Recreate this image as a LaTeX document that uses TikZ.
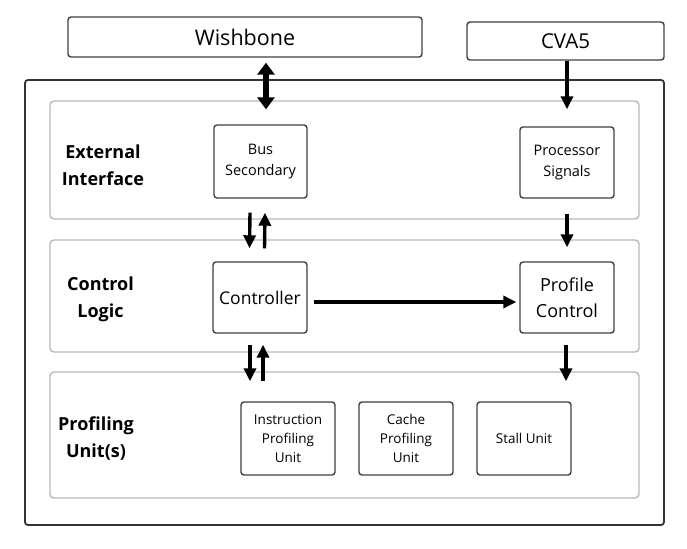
\documentclass[tikz,border=0pt]{standalone}
\usepackage{fontspec}
\setmainfont{Open Sans}
\usetikzlibrary{arrows.meta,calc}
\begin{document}
\begin{tikzpicture}[x=1pt,y=-1pt,
  topbox/.style={draw=black!75,line width=1.4pt,rounded corners=3pt,inner sep=0pt},
  outerbox/.style={draw=black!80,line width=1.8pt,rounded corners=3pt,inner sep=0pt},
  layer/.style={draw=black!28,line width=1.4pt,rounded corners=4pt,inner sep=0pt},
  unitbox/.style={draw=black!75,line width=1.4pt,rounded corners=3pt,inner sep=0pt,
    minimum width=94pt,align=center},
  heading/.style={font=\fontsize{18}{27}\selectfont\bfseries,align=center,inner sep=0pt},
  arr/.style={line width=3.4pt,-{Triangle[length=13pt,width=12pt]}},
  darr/.style={line width=5.5pt,{Triangle[length=12pt,width=17pt]}-{Triangle[length=12pt,width=17pt]}}
]
\useasboundingbox (0,0) rectangle (687,548);
% top boxes
\node[topbox,minimum width=354pt,minimum height=40pt,font=\fontsize{21.5}{24}\selectfont] (wb) at (245,37) {Wishbone};
\node[topbox,minimum width=197pt,minimum height=38pt,font=\fontsize{20.5}{24}\selectfont] (cva) at (565.5,41) {CVA5};
% outer
\node[outerbox,minimum width=639pt,minimum height=445pt] (outer) at (344.5,302.5) {};
% layers
\node[layer,minimum width=589pt,minimum height=118pt] (l1) at (344.5,160) {};
\node[layer,minimum width=589pt,minimum height=112pt] (l2) at (344.5,296) {};
\node[layer,minimum width=589pt,minimum height=126pt] (l3) at (344.5,435) {};
% headings
\node[heading] (h1) at (103,165.5) {External\\Interface};
\node[heading] (h2) at (100.5,299) {Control\\Logic};
\node[heading] (h3) at (96,438.5) {Profiling\\Unit(s)};
% inner boxes
\node[unitbox,minimum width=93pt,minimum height=73pt,font=\fontsize{14.5}{21}\selectfont] (bs) at (260.5,161.5) {Bus\\Secondary};
\node[unitbox,minimum height=71pt,font=\fontsize{14.5}{21}\selectfont] (ps) at (567,162.5) {Processor\\Signals};
\node[unitbox,minimum height=71pt,font=\fontsize{17.5}{24}\selectfont] (ctl) at (260,297.5) {Controller};
\node[unitbox,minimum height=71pt,font=\fontsize{18}{26}\selectfont] (pc) at (567,297.5) {Profile\\Control};
\node[unitbox,minimum height=73pt,font=\fontsize{13.5}{19}\selectfont] (ipu) at (288,438.5) {Instruction\\Profiling\\Unit};
\node[unitbox,minimum height=73pt,font=\fontsize{13.5}{19}\selectfont] (cpu) at (406,438.5) {Cache\\Profiling\\Unit};
\node[unitbox,minimum height=73pt,font=\fontsize{13.5}{19}\selectfont] (su) at (524,438.5) {Stall Unit};
% connectors
\draw[darr] ([xshift=5.5pt,yshift=-5pt]bs.north |- wb.south) -- ([xshift=5.5pt,yshift=15pt]bs.north);
\draw[arr] (ps.north |- cva.south) -- ([yshift=17pt]ps.north);
\draw[arr] ([xshift=-10.5pt,yshift=-14pt]bs.south) -- ([xshift=-10.5pt,yshift=13pt]ctl.north);
\draw[arr] ([xshift=4.5pt,yshift=13pt]ctl.north) -- ([xshift=4.5pt,yshift=-14pt]bs.south);
\draw[arr] ([yshift=-15pt]ps.south) -- ([yshift=14pt]pc.north);
\draw[arr] ([xshift=6pt,yshift=-4.5pt]ctl.east) -- ([xshift=-3pt,yshift=-4.5pt]pc.west);
\draw[arr] ([xshift=-10pt,yshift=-11pt]ctl.south) -- ([xshift=-38pt,yshift=20pt]ipu.north);
\draw[arr] ([xshift=-25pt,yshift=20pt]ipu.north) -- ([xshift=3pt,yshift=-11pt]ctl.south);
\draw[arr] ([xshift=-1pt,yshift=-11pt]pc.south) -- ([xshift=42pt,yshift=20pt]su.north);
\end{tikzpicture}
\end{document}
